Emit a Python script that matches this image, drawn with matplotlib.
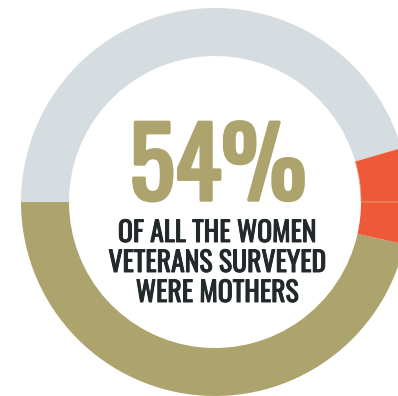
import matplotlib
matplotlib.use("Agg")
import matplotlib.pyplot as plt
import matplotlib.patheffects as pe
from matplotlib import font_manager

# Share of respondents, slices go counterclockwise from the left (9 o'clock)
labels = ["Mothers", "Mothers (a)", "Mothers (b)", "Not mothers"]
shares = [46.5, 3.5, 4.5, 45.5]
colors = ["#ada36d", "#ee5a37", "#ee5a37", "#d6dde0"]

headline = "54%"
caption = ["OF ALL THE WOMEN", "VETERANS SURVEYED", "WERE MOTHERS"]

gold = "#ada36d"
ink = "#23282b"

# pick a condensed face if one is installed
names = {f.name for f in font_manager.fontManager.ttflist}
family = "DejaVu Sans"
for cand in ["Oswald", "Barlow Condensed", "Liberation Sans Narrow"]:
    if cand in names:
        family = cand
        break

W, H = 398, 396
fig = plt.figure(figsize=(W / 100, H / 100), dpi=100)
ax = fig.add_axes([0, 0, 1, 1])

cx, cy = 215, H - 202
R, ring = 194, 48

wedges, _ = ax.pie(shares, colors=colors, startangle=180, counterclock=True,
                   radius=R, center=(cx, cy), frame=True,
                   wedgeprops=dict(width=ring, linewidth=0))
# thin light seam between the two red slices
wedges[2].set_edgecolor("#e9a27f")
wedges[2].set_linewidth(0.6)
ax.set_xlim(0, W)
ax.set_ylim(0, H)
ax.set_aspect("equal")
ax.axis("off")

# slight stroke to get closer to the heavier original face
ax.text(cx + 3, H - 200, headline, ha="center", va="baseline",
        fontsize=69, fontweight="bold", family=family, color=gold,
        path_effects=[pe.withStroke(linewidth=2.5, foreground=gold)])

for i, line in enumerate(caption):
    ax.text(cx + 2, H - 242 - 30 * i, line, ha="center", va="baseline",
            fontsize=20, fontweight="semibold", family=family, color=ink,
            path_effects=[pe.withStroke(linewidth=0.7, foreground=ink)])

fig.savefig("out.png", dpi=100)
